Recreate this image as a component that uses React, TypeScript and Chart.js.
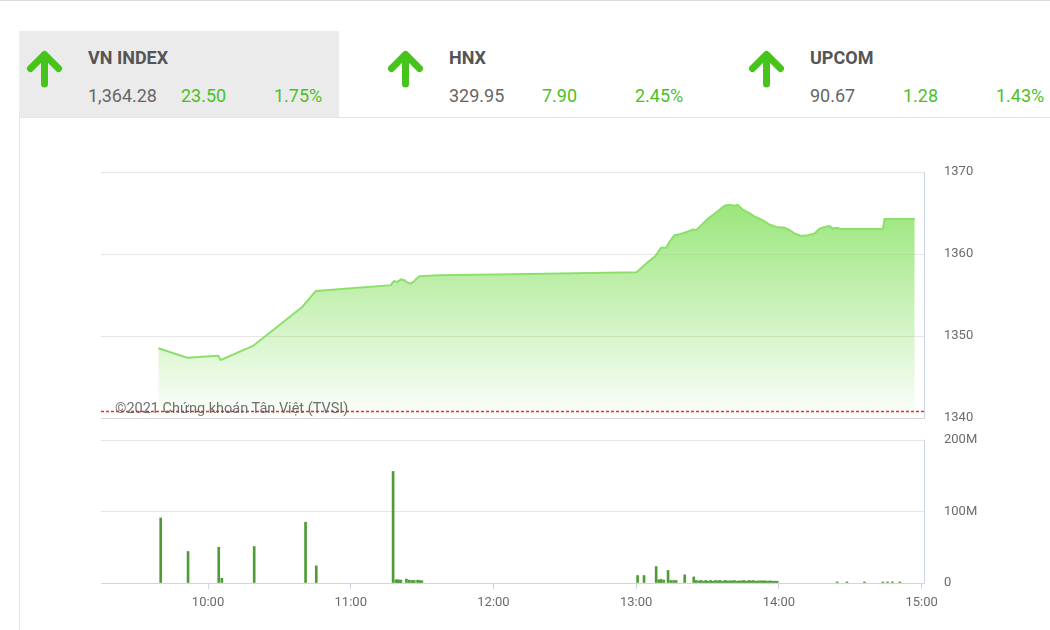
import React, { useEffect, useRef } from "react";
import { Chart, registerables } from "chart.js";
Chart.register(...registerables);

const FONT = "Roboto, 'Noto Sans', sans-serif";

// ---- header data ----
const indexNames = ["VN INDEX", "HNX", "UPCOM"];
const indexValues = ["1,364.28", "329.95", "90.67"];
const indexChanges = ["23.50", "7.90", "1.28"];
const indexPercents = ["1.75%", "2.45%", "1.43%"];

// ---- axes ----
const timeTicks = ["10:00", "11:00", "12:00", "13:00", "14:00", "15:00"];
const priceTicks = [1340, 1350, 1360, 1370];
const volumeTicks = [0, 100, 200]; // millions
const referenceLevel = 1340.78;
const watermark = "©2021 Chứng khoán Tân Việt (TVSI)";

// ---- VN-Index intraday ----
const priceTimes = [
  "09:39:06", "09:51:18", "10:04:18", "10:05:18", "10:18:54", "10:39:42", "10:45:18",
  "11:16:54", "11:17:30", "11:18:20", "11:19:40", "11:21:05", "11:22:30", "11:23:55",
  "11:25:20", "11:26:40", "11:28:50", "11:37:10", "12:15:00", "13:00:12",
  "13:02:42", "13:05:06", "13:08:06", "13:09:48", "13:10:30", "13:12:36", "13:14:00",
  "13:16:06", "13:18:12", "13:20:18", "13:22:24", "13:23:48", "13:25:12", "13:26:36",
  "13:28:00", "13:30:06", "13:32:54", "13:35:00", "13:37:06", "13:39:12", "13:41:18",
  "13:42:42", "13:44:48", "13:46:12", "13:47:36", "13:49:42", "13:51:48", "13:53:54",
  "13:56:00", "13:58:54", "14:02:24", "14:04:30", "14:06:36", "14:09:24", "14:12:12",
  "14:15:00", "14:17:06", "14:19:12", "14:21:18", "14:22:42", "14:24:06", "14:26:12",
  "14:43:42", "14:44:24", "14:57:06",
];
const priceValues = [
  1348.5, 1347.35, 1347.6, 1347.07, 1348.78, 1353.57, 1355.5,
  1356.2, 1356.5, 1356.7, 1356.6, 1356.9, 1356.8, 1356.5,
  1356.4, 1356.7, 1357.3, 1357.4, 1357.55, 1357.77,
  1358.45, 1359.06, 1359.76, 1360.5, 1360.77, 1360.77, 1361.5,
  1362.3, 1362.4, 1362.6, 1362.8, 1363.0, 1362.9, 1363.3,
  1363.7, 1364.3, 1364.9, 1365.4, 1365.9, 1366.0, 1365.9,
  1366.0, 1365.4, 1365.2, 1365.0, 1364.6, 1364.3, 1364.0,
  1363.6, 1363.3, 1363.2, 1362.9, 1362.5, 1362.2, 1362.3,
  1362.5, 1363.1, 1363.3, 1363.4, 1363.1, 1363.2, 1363.05,
  1363.05, 1364.28, 1364.28,
];

// ---- volume (millions of shares) ----
const volumeTimes = [
  "09:40:06", "09:51:36", "10:04:30", "10:05:48", "10:19:24", "10:41:00", "10:45:30",
  "11:17:48", "11:19:00", "11:19:42", "11:20:24", "11:21:06", "11:23:24", "11:24:36",
  "11:25:42", "11:26:42", "11:28:06", "11:29:06", "11:29:54",
  "13:00:36", "13:03:18", "13:08:24", "13:09:30", "13:10:30", "13:11:36", "13:13:24",
  "13:14:30", "13:15:42", "13:16:48", "13:20:24", "13:24:12", "13:25:12", "13:26:18",
  "13:27:18", "13:28:18", "13:29:18", "13:30:18", "13:31:18", "13:32:18", "13:33:18",
  "13:34:18", "13:35:18", "13:36:18", "13:37:18", "13:38:18", "13:39:18", "13:40:18",
  "13:41:18", "13:42:18", "13:43:18", "13:44:18", "13:45:18", "13:46:18", "13:47:18",
  "13:48:18", "13:49:18", "13:50:18", "13:51:18", "13:52:18", "13:53:18", "13:54:18",
  "13:55:18", "13:56:18", "13:57:18", "13:58:18", "13:59:18",
  "14:24:30", "14:28:36", "14:36:00", "14:43:42", "14:45:42", "14:47:42", "14:50:48",
];
const volumeValues = [
  91, 44, 50, 6.5, 51, 85, 24,
  156, 4.5, 4.5, 4, 4, 5.5, 4,
  3.5, 3.5, 4, 3.5, 3,
  10.5, 10.5, 23, 4.5, 5, 4, 17.5,
  3.5, 3.5, 3.5, 11.5, 8.5, 3.5, 3,
  3.5, 2.5, 3.5, 2.5, 3.5, 2.5, 3.5,
  3, 3.5, 2.5, 3.5, 3, 3, 3,
  3.5, 2.5, 3, 3, 3.5, 2.5, 3.5,
  3, 3.5, 2.5, 3, 3, 3, 3,
  2.5, 3, 2.5, 2.5, 2.5,
  1.5, 1.5, 1.5, 1.5, 1.5, 1.5, 1.5,
];

// minutes after 09:00
function toMin(t: string): number {
  const [h, m, s] = t.split(":").map(Number);
  return (h - 9) * 60 + m + (s || 0) / 60;
}
const X_MIN = toMin("09:15");
const X_MAX = toMin("15:01");

const LABEL_COLOR = "#6b6b6b";
const GRID = "#e6e6e6";
const AXIS_BLUE = "#ccd6eb";

function fixRightAxis(s: any) {
  s.width = 126;
  s.paddingTop = 0;
  s.paddingBottom = 0;
}

function Arrow({ left }: { left: number }) {
  return (
    <svg
      width={38}
      height={38}
      viewBox="0 0 38 38"
      style={{ position: "absolute", left, top: 50 }}
    >
      <path
        d="M18.5 34 L18.5 6 M4.5 18.5 L18.5 4.5 L32.5 18.5"
        stroke="#47c41b"
        strokeWidth={7}
        strokeLinecap="round"
        strokeLinejoin="round"
        fill="none"
      />
    </svg>
  );
}

export default function App() {
  const topRef = useRef<HTMLCanvasElement | null>(null);
  const botRef = useRef<HTMLCanvasElement | null>(null);

  useEffect(() => {
    const topCanvas = topRef.current!;
    const botCanvas = botRef.current!;

    const priceChart = new Chart(topCanvas, {
      type: "line",
      data: {
        datasets: [
          {
            data: [
              { x: X_MIN, y: referenceLevel },
              { x: X_MAX, y: referenceLevel },
            ],
            borderColor: "#ee2a24",
            borderWidth: 1.5,
            borderDash: [3, 2],
            pointRadius: 0,
            fill: false,
            order: 0,
          } as any,
          {
            data: priceTimes.map((t, i) => ({ x: toMin(t), y: priceValues[i] })),
            borderColor: "#8ddf6b",
            borderWidth: 2,
            pointRadius: 0,
            tension: 0,
            fill: "start",
            order: 1,
            backgroundColor: (ctx: any) => {
              const chart = ctx.chart;
              const area = chart.chartArea;
              if (!area) return "rgba(140,225,105,0.5)";
              const g = chart.ctx.createLinearGradient(0, area.top, 0, area.bottom);
              g.addColorStop(0, "rgba(140,226,104,1)");
              g.addColorStop(1, "rgba(140,226,104,0.02)");
              return g;
            },
          } as any,
        ],
      },
      options: {
        animation: false,
        responsive: false,
        maintainAspectRatio: false,
        layout: { padding: { left: 101, top: 22, right: 0, bottom: 12 } },
        plugins: { legend: { display: false }, tooltip: { enabled: false } },
        scales: {
          x: { type: "linear", min: X_MIN, max: X_MAX, display: false },
          y: {
            position: "right",
            min: 1340,
            max: 1370,
            afterBuildTicks: (s: any) => {
              s.ticks = priceTicks.map((v) => ({ value: v }));
            },
            afterFit: fixRightAxis,
            grid: {
              color: (c: any) => (c.tick && c.tick.value === 1340 ? "#d6d6d6" : GRID),
              drawTicks: false,
            },
            border: { color: AXIS_BLUE },
            ticks: {
              padding: 20,
              color: LABEL_COLOR,
              font: { family: FONT, size: 13 },
              callback: (v: any) => String(v),
            },
          },
        },
      } as any,
    });

    const volumeChart = new Chart(botCanvas, {
      type: "bar",
      data: {
        datasets: [
          {
            data: volumeTimes.map((t, i) => ({ x: toMin(t), y: volumeValues[i] })),
            backgroundColor: "#4f9c36",
            borderWidth: 0,
            barThickness: 2,
          } as any,
        ],
      },
      options: {
        animation: false,
        responsive: false,
        maintainAspectRatio: false,
        layout: { padding: { left: 101, top: 10, right: 0, bottom: 0 } },
        plugins: { legend: { display: false }, tooltip: { enabled: false } },
        scales: {
          x: {
            type: "linear",
            min: X_MIN,
            max: X_MAX,
            offset: false,
            afterBuildTicks: (s: any) => {
              s.ticks = timeTicks.map((t) => ({ value: toMin(t) }));
            },
            afterFit: (s: any) => {
              s.height = 47;
              s.paddingLeft = 0;
              s.paddingRight = 0;
            },
            grid: {
              drawOnChartArea: false,
              drawTicks: true,
              tickLength: 6,
              color: AXIS_BLUE,
              offset: false,
            },
            border: { color: AXIS_BLUE },
            ticks: {
              padding: 6,
              color: LABEL_COLOR,
              maxRotation: 0,
              autoSkip: false,
              font: { family: FONT, size: 13 },
              callback: (_v: any, i: number) => timeTicks[i],
            },
          },
          y: {
            position: "right",
            min: 0,
            max: 200,
            afterBuildTicks: (s: any) => {
              s.ticks = volumeTicks.map((v) => ({ value: v }));
            },
            afterFit: fixRightAxis,
            grid: {
              color: (c: any) => (c.tick && c.tick.value === 0 ? AXIS_BLUE : GRID),
              drawTicks: false,
            },
            border: { color: AXIS_BLUE },
            ticks: {
              padding: 20,
              color: LABEL_COLOR,
              font: { family: FONT, size: 13 },
              callback: (v: any) => (v === 0 ? "0" : v + "M"),
            },
          },
        },
      } as any,
    });

    return () => {
      priceChart.destroy();
      volumeChart.destroy();
    };
  }, []);

  const colLeft = [0, 361, 722];

  return (
    <div
      style={{
        position: "fixed",
        left: 0,
        top: 0,
        width: 1050,
        height: 630,
        background: "#ffffff",
        overflow: "hidden",
        fontFamily: FONT,
      }}
    >
      {/* top frame line */}
      <div style={{ position: "absolute", left: 0, top: 0, width: 1050, height: 1, background: "#dcdcdc" }} />
      {/* highlighted tab */}
      <div style={{ position: "absolute", left: 19, top: 31, width: 320, height: 86, background: "#ebebeb" }} />
      {/* header separator */}
      <div style={{ position: "absolute", left: 19, top: 117, width: 1031, height: 1, background: "#e4e4e4" }} />
      {/* left frame */}
      <div style={{ position: "absolute", left: 19, top: 117, width: 1, height: 513, background: "#e4e4e4" }} />

      {indexNames.map((name, i) => (
        <React.Fragment key={name}>
          <Arrow left={colLeft[i] + 26} />
          <div
            style={{
              position: "absolute",
              left: colLeft[i] + 88,
              top: 47,
              fontSize: 18,
              lineHeight: "21px",
              fontWeight: 700,
              color: "#555555",
              whiteSpace: "nowrap",
            }}
          >
            {name}
          </div>
          <div
            style={{
              position: "absolute",
              left: colLeft[i] + 88,
              top: 85,
              fontSize: 18,
              lineHeight: "21px",
              color: "#666666",
              whiteSpace: "nowrap",
            }}
          >
            {indexValues[i]}
          </div>
          <div
            style={{
              position: "absolute",
              left: colLeft[i] + 181,
              top: 85,
              fontSize: 18,
              lineHeight: "21px",
              color: "#4cbf28",
              whiteSpace: "nowrap",
            }}
          >
            {indexChanges[i]}
          </div>
          <div
            style={{
              position: "absolute",
              left: colLeft[i] + 274,
              top: 85,
              fontSize: 18,
              lineHeight: "21px",
              color: "#4cbf28",
              whiteSpace: "nowrap",
            }}
          >
            {indexPercents[i]}
          </div>
        </React.Fragment>
      ))}

      <canvas
        ref={topRef}
        width={1050}
        height={280}
        style={{ position: "absolute", left: 0, top: 150, width: 1050, height: 280 }}
      />
      <canvas
        ref={botRef}
        width={1050}
        height={200}
        style={{ position: "absolute", left: 0, top: 430, width: 1050, height: 200 }}
      />
      <div
        style={{
          position: "absolute",
          left: 115,
          top: 400,
          fontSize: 14.5,
          lineHeight: "17px",
          color: "rgba(95,95,95,0.9)",
          whiteSpace: "nowrap",
        }}
      >
        {watermark}
      </div>
    </div>
  );
}
